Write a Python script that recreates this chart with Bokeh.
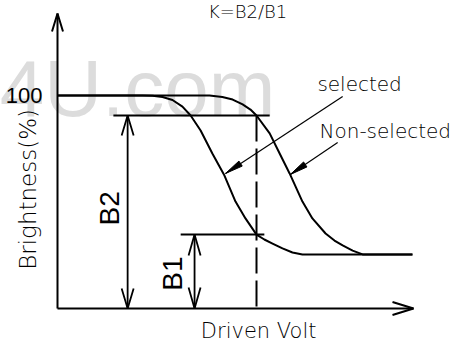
import math
from bokeh.plotting import figure
from bokeh.models import Range1d
from bokeh.core.properties import value
from bokeh.embed import file_html
from bokeh.resources import INLINE

# ---------------- data ----------------
# left curve ("selected")
sel_volt = [0, 2.39, 2.67, 2.95, 3.23, 3.51, 3.74, 4.02, 4.35, 4.69, 5.00, 5.28,
            5.59, 5.81, 6.04, 6.32, 6.60, 6.88, 9.97]
sel_bright = [100, 100, 99.9, 99.3, 97.9, 94.8, 90.6, 83.6, 72.8, 62.4, 50.2, 42.3,
              34.7, 32.4, 30.5, 28.2, 26.3, 25.4, 25.4]
# right curve ("Non-selected")
non_volt = [0, 4.27, 4.63, 4.92, 5.20, 5.42, 5.59, 5.96, 6.24, 6.52, 6.88, 7.16,
            7.53, 7.78, 8.01, 8.29, 8.57, 9.97]
non_bright = [100, 100, 99.3, 98.1, 95.8, 93.4, 90.6, 82.2, 72.8, 63.4, 50.2, 42.3,
              35.2, 31.9, 29.6, 27.2, 25.4, 25.4]

b2_level = 90.6          # B2 brightness
b1_level = 34.7          # B1 brightness
v_select = 5.59          # driven volt of the dashed marker
b2_span = [1.57, 5.96]   # extent of the B2 reference line
b1_span = [3.46, 5.81]   # extent of the B1 reference line
b2_dim_v = 1.97          # volt position of the B2 dimension arrow
b1_dim_v = 3.85          # volt position of the B1 dimension arrow
x_axis_end = 10.0
y_axis_end = 138.5
tick_value = 100
tick_label = "100"

title_text = "K=B2/B1"
x_title = "Driven Volt"
y_title = "Brightness(%)"
sel_label = "selected"
non_label = "Non-selected"
sel_leader = [(8.01, 99.5), (4.72, 63.4)]
non_leader = [(7.87, 77.9), (6.54, 62.9)]

# ---------------- figure ----------------
PXV = 35.6   # pixels per volt unit
PXB = 2.13   # pixels per % brightness
W, H = 450, 345
x0 = -57 / PXV
y_top = 308 / PXB
p = figure(width=W, height=H, output_backend="svg", toolbar_location=None,
           x_range=Range1d(x0, x0 + W / PXV), y_range=Range1d(y_top - H / PXB, y_top),
           x_axis_location=None, y_axis_location=None, min_border=0,
           background_fill_color="white", border_fill_color="white",
           outline_line_color=None)
p.grid.visible = False

DJ = value("DejaVu Sans Light")
LB = value("Liberation Sans")

# watermark
p.text(x=[6.12], y=[103.3], text=["t4U.com"], text_font=LB,
       text_font_size=value("80px"), text_color="#dcdcdc",
       text_align="right", text_baseline="middle")


def head(tip, frm, length, half):
    tx, ty = tip[0] * PXV, tip[1] * PXB
    fx, fy = frm[0] * PXV, frm[1] * PXB
    d = math.hypot(fx - tx, fy - ty)
    ux, uy = (fx - tx) / d, (fy - ty) / d
    bx, by = tx + ux * length, ty + uy * length
    nx, ny = -uy, ux
    a = ((bx + nx * half) / PXV, (by + ny * half) / PXB)
    b = ((bx - nx * half) / PXV, (by - ny * half) / PXB)
    return a, b


def open_head(tip, frm, length, half, lw):
    a, b = head(tip, frm, length, half)
    p.line([a[0], tip[0], b[0]], [a[1], tip[1], b[1]], line_color="black",
           line_width=lw)


def filled_head(tip, frm, length, half):
    a, b = head(tip, frm, length, half)
    p.patch([a[0], tip[0], b[0]], [a[1], tip[1], b[1]], fill_color="black",
            line_color="black", line_width=1)


# axes
p.line([0, 0], [0, y_axis_end], line_color="black", line_width=2)
p.line([0, x_axis_end], [0, 0], line_color="black", line_width=2)
open_head((0, y_axis_end), (0, 0), 18, 5.5, 2)
open_head((x_axis_end, 0), (0, 0), 21, 6.5, 2)

# curves
p.line(sel_volt, sel_bright, line_color="black", line_width=2)
p.line(non_volt, non_bright, line_color="black", line_width=2)

# reference lines
p.line(b2_span, [b2_level, b2_level], line_color="black", line_width=2)
p.line(b1_span, [b1_level, b1_level], line_color="black", line_width=2)
p.line([v_select, v_select], [b2_level, 0], line_color="black", line_width=2,
       line_dash="26 7")

# dimension arrows
p.line([b2_dim_v, b2_dim_v], [0, b2_level], line_color="black", line_width=1.8)
open_head((b2_dim_v, b2_level), (b2_dim_v, 0), 20, 6, 1.8)
open_head((b2_dim_v, 0), (b2_dim_v, b2_level), 20, 6, 1.8)
p.line([b1_dim_v, b1_dim_v], [0, b1_level], line_color="black", line_width=1.8)
open_head((b1_dim_v, b1_level), (b1_dim_v, 0), 21, 6, 1.8)
open_head((b1_dim_v, 0), (b1_dim_v, b1_level), 21, 6, 1.8)

# leaders
for (s, t) in (sel_leader, non_leader):
    p.line([s[0], t[0]], [s[1], t[1]], line_color="black", line_width=1.2)
    filled_head(t, s, 18, 3)

# texts
p.text(x=[5.34], y=[139.4], text=[title_text], text_font=DJ,
       text_font_size=value("18px"), text_color="black",
       text_align="center", text_baseline="middle")
p.text(x=[-0.42], y=[tick_value], text=[tick_label], text_font=LB,
       text_font_size=value("22px"), text_color="black",
       text_align="right", text_baseline="middle")
p.text(x=[-0.84], y=[55.9], text=[y_title], text_font=DJ, angle=math.pi / 2,
       text_font_size=value("23px"), text_color="black",
       text_align="center", text_baseline="middle")
p.text(x=[5.65], y=[-10.6], text=[x_title], text_font=DJ,
       text_font_size=value("21px"), text_color="black",
       text_align="center", text_baseline="middle")
p.text(x=[1.46], y=[47], text=["B2"], text_font=LB, angle=math.pi / 2,
       text_font_size=value("28px"), text_color="black",
       text_align="center", text_baseline="middle")
p.text(x=[3.23], y=[16.4], text=["B1"], text_font=LB, angle=math.pi / 2,
       text_font_size=value("28px"), text_color="black",
       text_align="center", text_baseline="middle")
p.text(x=[7.30], y=[105.6], text=[sel_label], text_font=DJ,
       text_font_size=value("20px"), text_color="black",
       text_align="left", text_baseline="middle")
p.text(x=[7.36], y=[83.3], text=[non_label], text_font=DJ,
       text_font_size=value("20px"), text_color="black",
       text_align="left", text_baseline="middle")

open("out.html", "w").write(file_html(p, INLINE))
